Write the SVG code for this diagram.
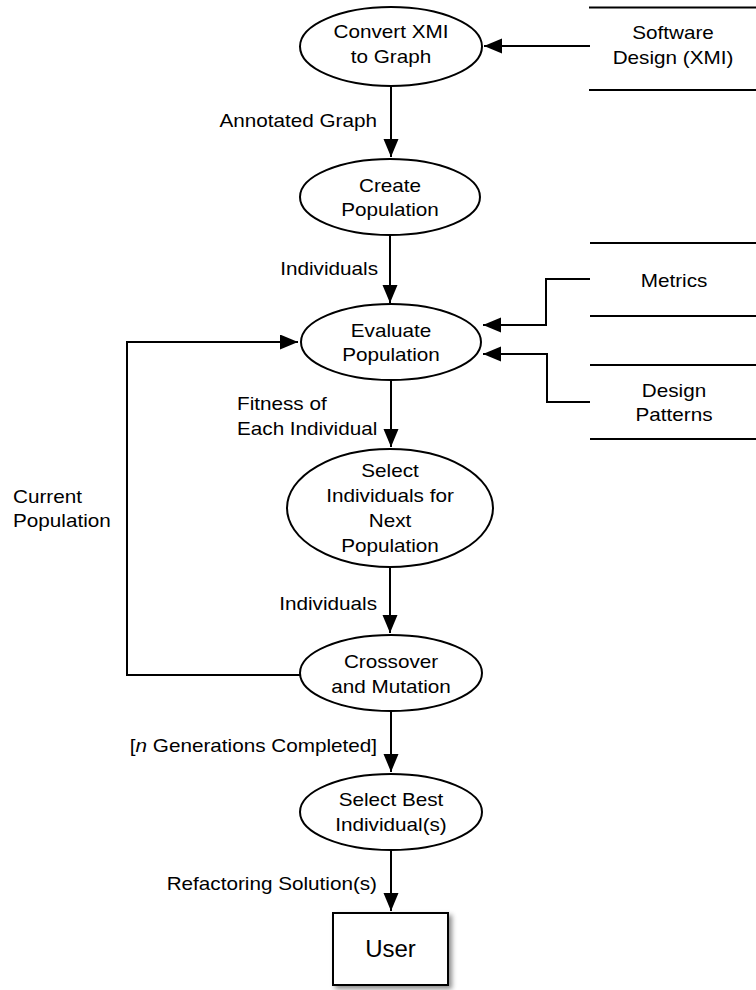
<svg xmlns="http://www.w3.org/2000/svg" width="756" height="990" viewBox="0 0 756 990">
<style>
.n{fill:#fff;stroke:#000;stroke-width:2}
.t{font-family:"Liberation Sans",Arial,Helvetica,sans-serif;font-size:18px;fill:#000}
.c{text-anchor:middle}
.e{text-anchor:end}
.w{stroke:#000;stroke-width:2;fill:none}
.s{stroke:#000;stroke-width:2}
</style>
<defs>
<marker id="ah" markerUnits="userSpaceOnUse" markerWidth="18" markerHeight="16" refX="18" refY="7.5" orient="auto">
<path d="M0,0 L18,7.5 L0,15 z" fill="#000"/>
</marker>
<filter id="sh" x="-20%" y="-20%" width="150%" height="150%">
<feDropShadow dx="3" dy="3" stdDeviation="2.5" flood-color="#000" flood-opacity="0.45"/>
</filter>
</defs>
<rect width="756" height="990" fill="#fff"/>

<g id="connectors">
<line class="w" x1="590" y1="46" x2="484" y2="46" marker-end="url(#ah)"/>
<line class="w" x1="391" y1="86" x2="391" y2="157" marker-end="url(#ah)"/>
<line class="w" x1="390" y1="235" x2="390" y2="303" marker-end="url(#ah)"/>
<polyline class="w" points="590,279 546,279 546,325 483,325" marker-end="url(#ah)"/>
<polyline class="w" points="590,402 547,402 547,354 483,354" marker-end="url(#ah)"/>
<line class="w" x1="391" y1="380" x2="391" y2="447" marker-end="url(#ah)"/>
<line class="w" x1="390" y1="567" x2="390" y2="633" marker-end="url(#ah)"/>
<polyline class="w" points="300,675 127,675 127,342 298,342" marker-end="url(#ah)"/>
<line class="w" x1="391" y1="711" x2="391" y2="772" marker-end="url(#ah)"/>
<line class="w" x1="391" y1="850" x2="391" y2="911" marker-end="url(#ah)"/>
<text class="t e" transform="translate(377,127) scale(1.15,1)">Annotated Graph</text>
<text class="t e" transform="translate(378,275) scale(1.15,1)">Individuals</text>
<text class="t" transform="translate(237,410) scale(1.15,1)"><tspan x="0">Fitness of</tspan><tspan x="0" dy="25">Each Individual</tspan></text>
<text class="t" transform="translate(13,503) scale(1.15,1)"><tspan x="0">Current</tspan><tspan x="0" dy="24">Population</tspan></text>
<text class="t e" transform="translate(377,610) scale(1.15,1)">Individuals</text>
<text class="t e" transform="translate(377,752) scale(1.15,1)">[<tspan font-style="italic">n</tspan> Generations Completed]</text>
<text class="t e" transform="translate(377,890) scale(1.15,1)">Refactoring Solution(s)</text>
</g>

<g id="convert">
<ellipse class="n" cx="391" cy="46.5" rx="91" ry="39.5"/>
<text class="t c" transform="translate(391,38) scale(1.15,1)"><tspan x="0">Convert XMI</tspan><tspan x="0" dy="25.5">to Graph</tspan></text>
</g>

<g id="software-design">
<line class="s" x1="589" y1="7.5" x2="756" y2="7.5"/>
<line class="s" x1="589" y1="90" x2="756" y2="90"/>
<text class="t c" transform="translate(673,39) scale(1.15,1)"><tspan x="0">Software</tspan><tspan x="0" dy="25">Design (XMI)</tspan></text>
</g>

<g id="create">
<ellipse class="n" cx="390" cy="197" rx="90" ry="38"/>
<text class="t c" transform="translate(390,191.5) scale(1.15,1)"><tspan x="0">Create</tspan><tspan x="0" dy="25">Population</tspan></text>
</g>

<g id="evaluate">
<ellipse class="n" cx="391" cy="342" rx="90" ry="38"/>
<text class="t c" transform="translate(391,336.5) scale(1.15,1)"><tspan x="0">Evaluate</tspan><tspan x="0" dy="25">Population</tspan></text>
</g>

<g id="metrics">
<line class="s" x1="590" y1="243" x2="756" y2="243"/>
<line class="s" x1="590" y1="316" x2="756" y2="316"/>
<text class="t c" transform="translate(674,287) scale(1.15,1)">Metrics</text>
</g>

<g id="design-patterns">
<line class="s" x1="590" y1="365" x2="756" y2="365"/>
<line class="s" x1="590" y1="439" x2="756" y2="439"/>
<text class="t c" transform="translate(674,397) scale(1.15,1)"><tspan x="0">Design</tspan><tspan x="0" dy="24">Patterns</tspan></text>
</g>

<g id="select">
<ellipse class="n" cx="390" cy="508" rx="103" ry="59"/>
<text class="t c" transform="translate(390,477) scale(1.15,1)"><tspan x="0">Select</tspan><tspan x="0" dy="25.5">Individuals for</tspan><tspan x="0" dy="25">Next</tspan><tspan x="0" dy="25">Population</tspan></text>
</g>

<g id="crossover">
<ellipse class="n" cx="391" cy="673" rx="91" ry="38"/>
<text class="t c" transform="translate(391,668) scale(1.15,1)"><tspan x="0">Crossover</tspan><tspan x="0" dy="25">and Mutation</tspan></text>
</g>

<g id="select-best">
<ellipse class="n" cx="391" cy="812" rx="91" ry="38"/>
<text class="t c" transform="translate(391,806) scale(1.15,1)"><tspan x="0">Select Best</tspan><tspan x="0" dy="25">Individual(s)</tspan></text>
</g>

<g id="user">
<rect class="n" x="333" y="913" width="115" height="72" filter="url(#sh)"/>
<text class="t c" x="390.5" y="957" style="font-size:24px">User</text>
</g>
</svg>
